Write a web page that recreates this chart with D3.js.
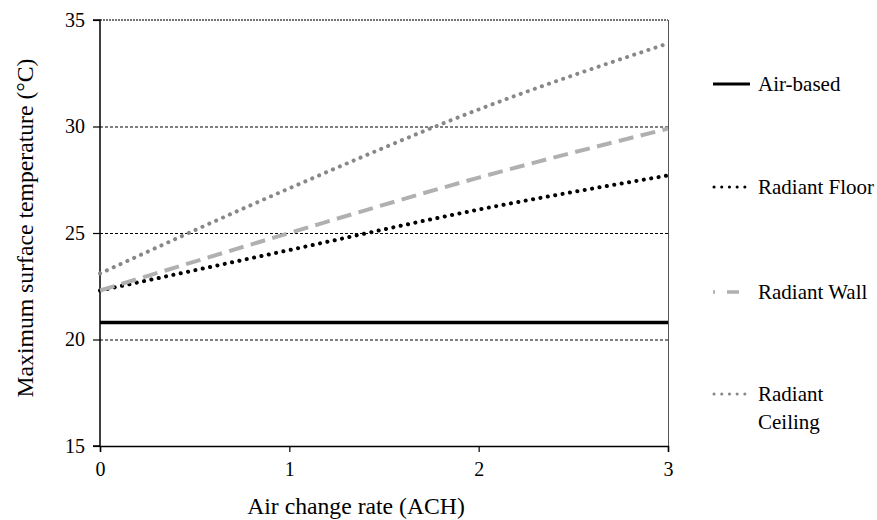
<!DOCTYPE html>
<html>
<head>
<meta charset="utf-8">
<script src="https://cdn.jsdelivr.net/npm/d3@7"></script>
<style>
  html, body { margin: 0; padding: 0; background: #fff; }
  svg { display: block; }
</style>
</head>
<body>
<svg id="chart" width="877" height="520"></svg>
<script>
// ---- data ----
const achValues = [0, 1, 2, 3];
const seriesNames = ["Air-based", "Radiant Floor", "Radiant Wall", "Radiant Ceiling"];
const airBased = [20.8, 20.8, 20.8, 20.8];
const radiantFloor = [22.3, 24.2, 26.1, 27.7];
const radiantWall = [22.3, 25.0, 27.6, 29.9];
const radiantCeiling = [23.1, 27.1, 30.8, 33.9];
const yTicks = [15, 20, 25, 30, 35];
const xTicks = [0, 1, 2, 3];
const yTitle = "Maximum surface temperature (°C)";
const xTitle = "Air change rate (ACH)";

const FONT = "'Liberation Serif', 'Times New Roman', serif";

// ---- layout ----
const svg = d3.select("#chart");
const pL = 100, pR = 668, pT = 20, pB = 446;
const x = d3.scaleLinear().domain([0, 3]).range([pL, pR]);
const y = d3.scaleLinear().domain([15, 35]).range([pB, pT]);

// gridlines
const grid = svg.append("g");
yTicks.filter(t => t > 15 && t < 35).forEach(t => {
  grid.append("line")
    .attr("x1", pL).attr("x2", pR)
    .attr("y1", y(t) + 0.5).attr("y2", y(t) + 0.5)
    .attr("stroke", "#000").attr("stroke-width", 1)
    .attr("stroke-dasharray", "3,2");
});
// top line at 35
grid.append("line")
  .attr("x1", pL).attr("x2", pR)
  .attr("y1", y(35)).attr("y2", y(35))
  .attr("stroke", "#444").attr("stroke-width", 1.6)
  .attr("stroke-dasharray", "2,1");
// right border
grid.append("line")
  .attr("x1", pR + 0.5).attr("x2", pR + 0.5)
  .attr("y1", pT).attr("y2", pB)
  .attr("stroke", "#555").attr("stroke-width", 1);

// axes
const yAxis = d3.axisLeft(y).tickValues(yTicks).tickSize(7).tickPadding(8).tickFormat(d3.format("d"));
const xAxis = d3.axisBottom(x).tickValues(xTicks).tickSize(6).tickPadding(10).tickFormat(d3.format("d"));

const gy = svg.append("g").attr("transform", `translate(${pL},0)`).call(yAxis);
const gx = svg.append("g").attr("transform", `translate(0,${pB})`).call(xAxis);
[gx, gy].forEach(g => {
  g.attr("font-family", null);
  g.select(".domain").attr("stroke", "#000").attr("stroke-width", 1.5);
  g.selectAll(".tick line").attr("stroke", "#000").attr("stroke-width", 1.2);
  g.selectAll(".tick text").style("font-family", FONT).style("font-size", "20px").attr("fill", "#000");
});
gy.select(".domain").attr("d", `M-7,${pT}H0V${pB}H-7`);

// series
const styles = [
  { data: airBased, color: "#000", width: 3.5, dash: null, cap: "butt" },
  { data: radiantFloor, color: "#000", width: 4, dash: "0.1,7.4", cap: "round" },
  { data: radiantWall, color: "#b0b0b0", width: 4, dash: "15,7.5", cap: "butt" },
  { data: radiantCeiling, color: "#888", width: 4, dash: "0.1,7.4", cap: "round" }
];

const line = d3.line()
  .x((d, i) => x(achValues[i]))
  .y(d => y(d))
  .curve(d3.curveMonotoneX);

styles.forEach(s => {
  svg.append("path")
    .attr("d", line(s.data))
    .attr("fill", "none")
    .attr("stroke", s.color)
    .attr("stroke-width", s.width)
    .attr("stroke-linecap", s.cap)
    .attr("stroke-dasharray", s.dash);
});

// legend
const legendY = [84, 187, 292, 394];
const lg = svg.append("g");
seriesNames.forEach((name, i) => {
  const s = styles[i];
  const ly = legendY[i];
  if (i === 2) {
    lg.append("line").attr("x1", 713).attr("x2", 750).attr("y1", ly).attr("y2", ly)
      .attr("stroke", s.color).attr("stroke-width", 3.5)
      .attr("stroke-dasharray", "2,12,12,20");
  } else {
    lg.append("line").attr("x1", i === 0 ? 713 : 714).attr("x2", 750).attr("y1", ly).attr("y2", ly)
      .attr("stroke", s.color).attr("stroke-width", 3)
      .attr("stroke-linecap", s.cap)
      .attr("stroke-dasharray", s.dash ? "0.1,7.6" : null);
  }
  const words = name === "Radiant Ceiling" ? ["Radiant", "Ceiling"] : [name];
  const t = lg.append("text")
    .attr("x", 758).attr("y", ly + 7)
    .style("font-family", FONT).style("font-size", "21px").attr("fill", "#000");
  words.forEach((w, k) => {
    t.append("tspan").attr("x", 758).attr("dy", k === 0 ? 0 : 28)
      .style("font-family", FONT).text(w);
  });
});

// titles
svg.append("text")
  .attr("transform", `translate(33,228) rotate(-90)`)
  .attr("text-anchor", "middle")
  .style("font-family", FONT).style("font-size", "23.7px").attr("fill", "#000")
  .text(yTitle);
svg.append("text")
  .attr("x", 356).attr("y", 514)
  .attr("text-anchor", "middle")
  .style("font-family", FONT).style("font-size", "23.7px").attr("fill", "#000")
  .text(xTitle);
</script>
</body>
</html>
